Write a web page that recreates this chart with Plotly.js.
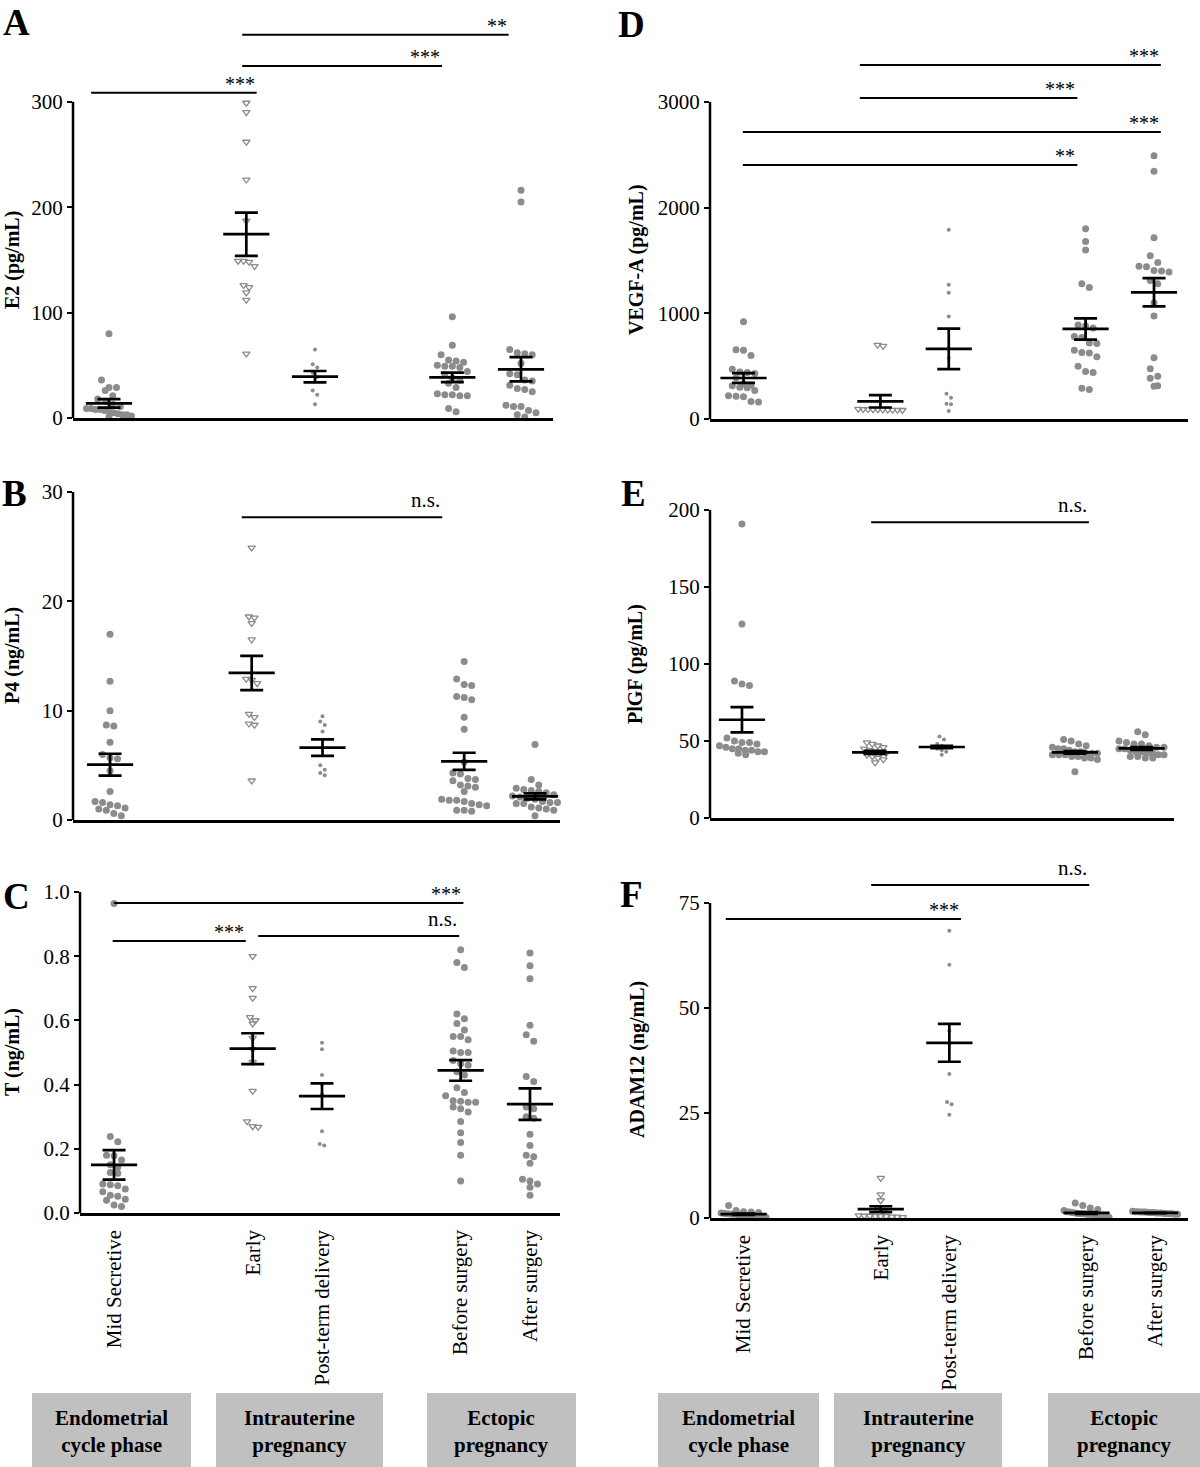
<!DOCTYPE html>
<html>
<head>
<meta charset="utf-8">
<script src="https://cdn.plot.ly/plotly-3.0.1.min.js"></script>
<style>
  html, body { margin: 0; padding: 0; background: #fff; }
  #chart { width: 1200px; height: 1467px; }
</style>
</head>
<body>
<div id="chart"></div>
<script>
/****************************************************
 * Groups (same order in every panel)
 ****************************************************/
const groupNames = ["Mid Secretive", "Early", "Post-term delivery", "Before surgery", "After surgery"];
const groupPos = [1, 3, 4, 6, 7];

// A - E2 (pg/mL)
const e2Mid    = [80, 36, 29, 29, 26, 21, 18, 16, 13, 11, 9, 9, 8, 8, 7, 6, 5, 4, 3, 3, 2, 1];
const e2Early  = [299, 290, 262, 226, 187, 149, 149, 148, 144, 126, 124, 119, 112, 61];
const e2Post   = [65, 51, 48, 43, 39, 26, 22, 13];
const e2Before = [96, 69, 60, 55, 54, 53, 50, 49, 49, 48, 44, 41, 38, 36, 33, 29, 23, 22, 22, 21, 21, 9, 6];
const e2After  = [216, 205, 65, 62, 61, 60, 52, 42, 41, 36, 35, 31, 28, 27, 25, 12, 11, 11, 7, 5, 3, 1];
const e2Mean   = [13.9, 174.4, 39.2, 38.6, 46.2];
const e2Sem    = [4.0, 20.5, 5.4, 4.5, 11.5];

// B - P4 (ng/mL)
const p4Mid    = [17.0, 12.7, 10.0, 8.7, 8.6, 7.1, 6.0, 5.7, 5.6, 4.5, 2.6, 1.7, 1.6, 1.4, 1.3, 1.1, 1.0, 0.9, 0.6, 0.4];
const p4Early  = [24.9, 18.6, 18.5, 18.0, 16.5, 12.9, 12.8, 12.5, 9.7, 9.4, 8.8, 8.7, 3.6];
const p4Post   = [9.5, 9.0, 8.7, 8.1, 5.0, 4.6, 4.3, 4.1];
const p4Before = [14.5, 12.9, 12.4, 12.3, 11.3, 11.2, 11.0, 9.4, 8.3, 5.3, 4.3, 4.2, 3.8, 3.7, 3.6, 3.2, 3.1, 3.0, 2.6, 1.9, 1.8, 1.8, 1.7, 1.5, 1.4, 1.3, 0.9, 0.9, 0.8];
const p4After  = [6.9, 3.7, 3.2, 2.9, 2.8, 2.7, 2.6, 2.5, 2.3, 2.2, 2.1, 2.0, 1.9, 1.7, 1.6, 1.6, 1.5, 1.5, 1.2, 1.1, 1.0, 0.9, 0.4];
const p4Mean   = [5.06, 13.45, 6.62, 5.37, 2.16];
const p4Sem    = [1.0, 1.57, 0.75, 0.78, 0.28];

// C - T (ng/mL)
const tMid    = [0.964, 0.238, 0.222, 0.180, 0.178, 0.165, 0.150, 0.143, 0.126, 0.124, 0.090, 0.088, 0.085, 0.075, 0.066, 0.055, 0.052, 0.043, 0.040, 0.025, 0.020];
const tEarly  = [0.80, 0.70, 0.67, 0.61, 0.60, 0.59, 0.545, 0.51, 0.47, 0.38, 0.285, 0.27, 0.268];
const tPost   = [0.53, 0.51, 0.43, 0.40, 0.37, 0.255, 0.215, 0.21];
const tBefore = [0.82, 0.78, 0.765, 0.62, 0.605, 0.59, 0.57, 0.55, 0.55, 0.54, 0.505, 0.50, 0.50, 0.475, 0.465, 0.46, 0.44, 0.43, 0.39, 0.375, 0.365, 0.35, 0.348, 0.345, 0.345, 0.33, 0.325, 0.315, 0.285, 0.25, 0.22, 0.18, 0.10];
const tAfter  = [0.81, 0.77, 0.73, 0.585, 0.555, 0.535, 0.425, 0.41, 0.33, 0.325, 0.30, 0.295, 0.245, 0.21, 0.18, 0.175, 0.155, 0.105, 0.10, 0.09, 0.08, 0.055];
const tMean   = [0.15, 0.512, 0.364, 0.444, 0.339];
const tSem    = [0.046, 0.048, 0.04, 0.032, 0.049];

// D - VEGF-A (pg/mL)
const vegfMid    = [921, 655, 650, 600, 470, 445, 440, 430, 390, 330, 320, 315, 300, 295, 270, 220, 215, 210, 165, 160];
const vegfEarly  = [700, 690, 95, 93, 92, 90, 90, 88, 87, 86, 85, 84];
const vegfPost   = [1790, 1270, 1195, 970, 580, 240, 200, 145, 140, 75];
const vegfBefore = [1800, 1680, 1600, 1280, 1245, 890, 880, 860, 780, 770, 720, 715, 650, 630, 625, 590, 500, 450, 440, 290, 280];
const vegfAfter  = [2490, 2345, 1715, 1545, 1480, 1445, 1440, 1405, 1400, 1390, 1310, 1280, 1100, 975, 580, 475, 405, 385, 315, 310];
const vegfMean   = [388, 167, 663, 852, 1199];
const vegfSem    = [47, 58, 192, 100, 134];

// E - PlGF (pg/mL)
const plgfMid    = [191, 126, 89, 87, 86, 52, 50, 49, 49, 48, 47, 46, 45, 45, 44, 44, 43, 43, 42, 41];
const plgfEarly  = [49, 48, 47, 46, 45, 44, 43, 42, 42, 41, 40, 39, 38, 36];
const plgfPost   = [53, 51, 48, 47, 46, 45, 44, 43, 41];
const plgfBefore = [51, 50, 48, 47, 46, 45, 45, 44, 43, 43, 42, 42, 42, 41, 41, 41, 40, 40, 39, 39, 38, 30];
const plgfAfter  = [56, 54, 50, 49, 48, 48, 47, 46, 46, 45, 45, 44, 43, 43, 42, 42, 41, 41, 40, 40, 39, 39];
const plgfMean   = [63.8, 42.6, 46.1, 42.6, 45.2];
const plgfSem    = [8.2, 1.0, 0.8, 0.8, 0.9];

// F - ADAM12 (ng/mL)
const adamMid    = [3.0, 1.8, 1.5, 1.4, 1.3, 1.2, 1.1, 1.0, 0.9, 0.9, 0.8, 0.8, 0.7, 0.6, 0.5, 0.5, 0.4, 0.3, 0.2];
const adamEarly  = [9.5, 5.6, 4.2, 2.0, 1.5, 0.6, 0.5, 0.5, 0.4, 0.4, 0.4, 0.3, 0.3, 0.2];
const adamPost   = [68.4, 60.3, 44.5, 41.5, 34.3, 27.6, 27.1, 24.6];
const adamBefore = [3.6, 3.0, 2.4, 2.0, 1.8, 1.5, 1.4, 1.3, 1.2, 1.1, 1.0, 1.0, 0.9, 0.9, 0.8, 0.7, 0.6, 0.5, 0.4, 0.3, 0.2];
const adamAfter  = [1.6, 1.5, 1.5, 1.4, 1.4, 1.4, 1.3, 1.3, 1.3, 1.2, 1.2, 1.2, 1.1, 1.1, 1.0, 1.0, 0.9, 0.9];
const adamMean   = [0.9, 2.1, 41.7, 1.2, 1.2];
const adamSem    = [0.15, 0.7, 4.5, 0.2, 0.05];

/****************************************************
 * Panel setup (pixel boxes of each subplot)
 ****************************************************/
const W = 1200, H = 1467;
const SERIF = "Liberation Serif, Times New Roman, serif";
const GRAY = "#8c8c8c";

const panels = [
  { letter: "A", title: "E2 (pg/mL)", data: [e2Mid, e2Early, e2Post, e2Before, e2After], mean: e2Mean, sem: e2Sem,
    px: [73, 553], py: [8, 418], xr: [0.476, 7.466], yr: [0, 389], ticks: [0, 100, 200, 300], fmt: "",
    letterAt: [16, 22], titleAt: [12, 260], bottom: false,
    sig: [[0.74, 3.15, 308.6, "***"], [2.94, 5.85, 334, "***"], [2.94, 6.82, 363.6, "**"]] },
  { letter: "B", title: "P4 (ng/mL)", data: [p4Mid, p4Early, p4Post, p4Before, p4After], mean: p4Mean, sem: p4Sem,
    px: [73, 560], py: [478, 820], xr: [0.477, 7.353], yr: [0, 31.28], ticks: [0, 10, 20, 30], fmt: "",
    letterAt: [14, 493], titleAt: [12, 656], bottom: false,
    sig: [[2.86, 5.69, 27.7, "n.s."]] },
  { letter: "C", title: "T (ng/mL)", data: [tMid, tEarly, tPost, tBefore, tAfter], mean: tMean, sem: tSem,
    px: [80, 560], py: [878, 1213], xr: [0.509, 7.433], yr: [0, 1.0436], ticks: [0, 0.2, 0.4, 0.6, 0.8, 1.0], fmt: ".1f",
    letterAt: [16, 896], titleAt: [12, 1052], bottom: true,
    sig: [[1.0, 6.04, 0.966, "***"], [0.98, 2.90, 0.847, "***"], [3.08, 5.98, 0.863, "n.s."]] },
  { letter: "D", title: "VEGF-A (pg/mL)", data: [vegfMid, vegfEarly, vegfPost, vegfBefore, vegfAfter], mean: vegfMean, sem: vegfSem,
    px: [710, 1188], py: [8, 419], xr: [0.51, 7.497], yr: [0, 3889], ticks: [0, 1000, 2000, 3000], fmt: "",
    letterAt: [631, 24], titleAt: [636, 260], bottom: false,
    sig: [[2.70, 7.10, 3350, "***"], [2.70, 5.88, 3038, "***"], [0.99, 7.10, 2716, "***"], [0.99, 5.88, 2404, "**"]] },
  { letter: "E", title: "PlGF (pg/mL)", data: [plgfMid, plgfEarly, plgfPost, plgfBefore, plgfAfter], mean: plgfMean, sem: plgfSem,
    px: [710, 1174], py: [478, 818], xr: [0.52, 7.488], yr: [0, 220.8], ticks: [0, 50, 100, 150, 200], fmt: "",
    letterAt: [633, 493], titleAt: [635, 664], bottom: false,
    sig: [[2.94, 6.21, 192, "n.s."]] },
  { letter: "F", title: "ADAM12 (ng/mL)", data: [adamMid, adamEarly, adamPost, adamBefore, adamAfter], mean: adamMean, sem: adamSem,
    px: [710, 1188], py: [858, 1218], xr: [0.51, 7.48], yr: [0, 85.7], ticks: [0, 25, 50, 75], fmt: "",
    letterAt: [632, 894], titleAt: [637, 1060], bottom: true,
    sig: [[2.86, 6.04, 79.3, "n.s."], [0.74, 4.17, 71.2, "***"]] }
];

// marker look for each group: circle, open triangle, small dot, circle, circle
const groupStyle = [
  { marker: { symbol: "circle", size: 7, color: GRAY }, step: 7.5, maxRow: 7 },
  { marker: { symbol: "triangle-down-open", size: 6.5, color: GRAY, line: { color: GRAY, width: 1.3 } }, step: 5.5, maxRow: 9 },
  { marker: { symbol: "circle", size: 4, color: GRAY }, step: 4.5, maxRow: 6 },
  { marker: { symbol: "circle", size: 7, color: GRAY }, step: 7.5, maxRow: 7 },
  { marker: { symbol: "circle", size: 7, color: GRAY }, step: 7.5, maxRow: 7 }
];

/****************************************************
 * Simple beeswarm: points that sit within one marker
 * height of each other are spread out side by side
 ****************************************************/
function swarm(values, center, pxPerY, pxPerX, step, maxRow) {
  const order = values.map((v, i) => i).sort((a, b) => values[b] - values[a]);
  const xs = new Array(values.length);
  let row = [];
  const flush = () => {
    const k = row.length;
    const s = k > maxRow ? step * (maxRow - 1) / (k - 1) : step;
    row.forEach((i, j) => { xs[i] = center + (j - (k - 1) / 2) * s / pxPerX; });
    row = [];
  };
  order.forEach(i => {
    if (row.length && (values[row[0]] - values[i]) * pxPerY >= step) flush();
    row.push(i);
  });
  flush();
  return xs;
}

const traces = [];
const shapes = [];
const annotations = [];
const layout = {
  width: W, height: H,
  margin: { l: 0, r: 0, t: 0, b: 0 },
  paper_bgcolor: "#fff", plot_bgcolor: "rgba(0,0,0,0)",
  showlegend: false,
  font: { family: SERIF, color: "#000" }
};

panels.forEach((p, n) => {
  const ax = n === 0 ? "" : String(n + 1);
  const xa = "x" + ax, ya = "y" + ax;
  const pxPerX = (p.px[1] - p.px[0]) / (p.xr[1] - p.xr[0]);
  const pxPerY = (p.py[1] - p.py[0]) / (p.yr[1] - p.yr[0]);

  layout["xaxis" + ax] = {
    domain: [p.px[0] / W, p.px[1] / W], range: p.xr, anchor: ya,
    showline: true, linecolor: "#000", linewidth: 2.5, zeroline: false, showgrid: false,
    ticks: "", tickvals: p.bottom ? groupPos : [], ticktext: p.bottom ? groupNames : [],
    showticklabels: p.bottom, tickangle: -90, ticklabelstandoff: 6,
    tickfont: { family: SERIF, size: 21, color: "#000" }, fixedrange: true
  };
  layout["yaxis" + ax] = {
    domain: [1 - p.py[1] / H, 1 - p.py[0] / H], range: p.yr, anchor: xa,
    showline: false, zeroline: false, showgrid: false,
    ticks: "outside", ticklen: 5, tickwidth: 2, tickcolor: "#000",
    tickvals: p.ticks, tickformat: p.fmt,
    tickfont: { family: SERIF, size: 21, color: "#000" }, fixedrange: true
  };

  // y axis line stops at the top tick, like the original
  shapes.push({ type: "line", xref: xa + " domain", yref: ya, x0: 0, x1: 0,
    y0: p.yr[0], y1: p.ticks[p.ticks.length - 1], line: { color: "#000", width: 2.5 } });

  // individual points
  p.data.forEach((vals, g) => {
    const st = groupStyle[g];
    traces.push({
      type: "scatter", mode: "markers", xaxis: xa, yaxis: ya,
      x: swarm(vals, groupPos[g], pxPerY, pxPerX, st.step, st.maxRow), y: vals,
      marker: st.marker, cliponaxis: false, hoverinfo: "y"
    });
  });

  // mean +/- SEM
  traces.push({
    type: "scatter", mode: "markers", xaxis: xa, yaxis: ya,
    x: groupPos, y: p.mean,
    marker: { symbol: "line-ew", size: 33, color: "#000", line: { color: "#000", width: 2.7 } },
    error_y: { type: "data", array: p.sem, visible: true, color: "#000", thickness: 2.7, width: 11.5 },
    cliponaxis: false, hoverinfo: "y"
  });

  // significance bars
  p.sig.forEach(([from, to, y, label]) => {
    shapes.push({ type: "line", xref: xa, yref: ya, x0: from, x1: to, y0: y, y1: y,
      line: { color: "#000", width: 2 } });
    annotations.push({ xref: xa, yref: ya, x: to, y: y, xanchor: "right", yanchor: "bottom",
      text: label, showarrow: false, yshift: label === "n.s." ? 3 : -4,
      font: { family: SERIF, size: label === "n.s." ? 21 : 20, color: "#000" } });
  });

  // panel letter and y title
  annotations.push({ xref: "paper", yref: "paper", x: p.letterAt[0] / W, y: 1 - p.letterAt[1] / H,
    xanchor: "center", yanchor: "middle", showarrow: false,
    text: "<b>" + p.letter + "</b>", font: { family: SERIF, size: 37, color: "#000" } });
  annotations.push({ xref: "paper", yref: "paper", x: p.titleAt[0] / W, y: 1 - p.titleAt[1] / H,
    xanchor: "center", yanchor: "middle", showarrow: false, textangle: -90,
    text: "<b>" + p.title + "</b>", font: { family: SERIF, size: 20, color: "#000" } });
});

/****************************************************
 * Grey group boxes under the bottom panels
 ****************************************************/
const boxLabels = ["Endometrial<br>cycle phase", "Intrauterine<br>pregnancy", "Ectopic<br>pregnancy"];
const boxSpans = [[32, 191], [216, 383], [427, 576], [658, 819], [834, 1002], [1048, 1200]];
boxSpans.forEach((b, i) => {
  shapes.push({ type: "rect", xref: "paper", yref: "paper", x0: b[0] / W, x1: b[1] / W,
    y0: 1 - 1467 / H, y1: 1 - 1393 / H, fillcolor: "#c0c0c0", line: { width: 0 }, layer: "below" });
  annotations.push({ xref: "paper", yref: "paper", x: (b[0] + b[1]) / 2 / W, y: 1 - 1431 / H,
    xanchor: "center", yanchor: "middle", showarrow: false,
    text: "<b>" + boxLabels[i % 3] + "</b>", font: { family: SERIF, size: 21, color: "#000" } });
});

layout.shapes = shapes;
layout.annotations = annotations;

Plotly.newPlot("chart", traces, layout, { displayModeBar: false, staticPlot: true });
</script>
</body>
</html>
